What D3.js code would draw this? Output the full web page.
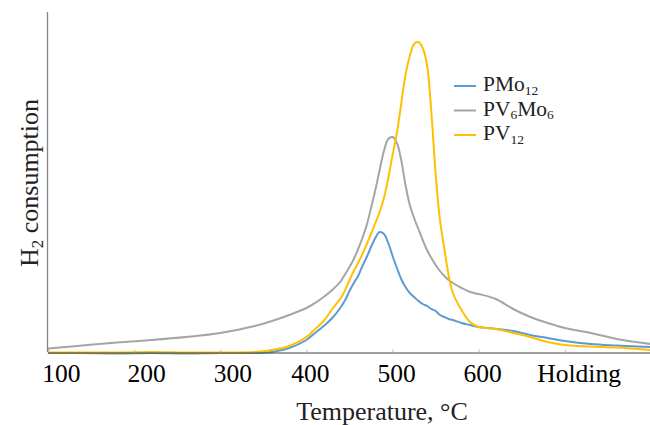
<!DOCTYPE html>
<html>
<head>
<meta charset="utf-8">
<script src="https://cdn.jsdelivr.net/npm/d3@7"></script>
<style>
  html, body { margin: 0; padding: 0; background: #fff; }
  svg { display: block; font-family: "Liberation Serif", "Times New Roman", serif; }
</style>
</head>
<body>
<svg id="chart" width="650" height="425"></svg>
<script>
// Position along the temperature programme (ramp then isothermal hold)
const positions = [0, 40, 80, 120, 160, 200, 240, 260, 280, 300, 310, 320, 330, 340, 345, 350, 355, 360,
  365, 370, 375, 380, 385, 390, 395, 400, 405, 410, 415, 420, 425, 430, 435, 440, 445, 450, 455, 460,
  465, 470, 480, 490, 500, 520, 540, 560, 580, 600, 630, 660, 700];

// TCD signal, arbitrary units
const pmo12 = [-1, -1, -1.5, -1, -1.5, -1, -1, 0, 4, 12, 19, 26, 34, 45, 52, 61, 69, 76,
  86, 95, 105, 114, 120, 118, 109, 96, 84, 73, 65, 59, 55, 51, 48, 46, 43, 41, 37, 35,
  33, 32, 29, 27, 25, 23, 21, 17, 14, 11, 8, 6.5, 5];
const pv6mo6 = [3.5, 6.5, 9.5, 12, 15, 19, 26, 31, 37, 44, 49, 55, 62, 71, 78, 85, 93, 103,
  114, 127, 144, 162, 182, 201, 213, 215, 209, 192, 167, 147, 134, 123, 112, 102, 94, 87, 81, 76,
  72, 69, 64, 60, 58, 53, 43, 35, 29, 24, 19, 13, 8];
const pv12 = [-0.5, -0.5, -0.5, 0, -0.5, -0.5, 0, 2, 6, 15, 23, 31, 43, 54, 62, 72, 81, 89,
  98, 108, 118, 129, 140, 154, 174, 197, 219, 248, 277, 296, 308, 310, 304, 287, 240, 178, 132, 104,
  77, 59, 42, 30, 25, 23, 19, 15, 10, 7, 5.5, 4.5, 2];

const tickMarks = [0, 100, 200, 300, 400, 500, 600, 700];
const tickLabels = ["100", "200", "300", "400", "500", "600", "Holding"];
const tickLabelPos = [15, 114, 214, 304, 404, 504, 616];

const series = [
  { name: "PMo", sub: "12", values: pmo12, color: "#5B9BD5" },
  { name: "PV", sub: "6", name2: "Mo", sub2: "6", values: pv6mo6, color: "#A5A5A5" },
  { name: "PV", sub: "12", values: pv12, color: "#FFC000" }
];

const svg = d3.select("#chart");
const margin = { left: 48, right: 0, top: 12, bottom: 73 };
const W = 650, H = 425;

const x = d3.scaleLinear().domain([0, 700]).range([margin.left, W - margin.right + 1]);
const y = d3.scaleLinear().domain([0, 340]).range([H - margin.bottom, margin.top]);

// vertical axis line (no ticks)
svg.append("line")
  .attr("x1", margin.left - 0.5).attr("x2", margin.left - 0.5)
  .attr("y1", y(340)).attr("y2", y(0))
  .attr("stroke", "#868686").attr("stroke-width", 1.3);

// curves
const line = d3.line()
  .x((d, i) => x(positions[i]))
  .y(d => y(d))
  .curve(d3.curveCatmullRom.alpha(0.5));

const order = [1, 0, 2];
order.forEach(k => {
  const s = series[k];
  svg.append("path")
    .datum(s.values)
    .attr("d", line)
    .attr("fill", "none")
    .attr("stroke", s.color)
    .attr("stroke-width", 2)
    .attr("stroke-linejoin", "round");
});

// horizontal axis: line with small inward tick marks
const axisG = svg.append("g").attr("transform", `translate(0,${y(0) + 0.5})`);
axisG.call(d3.axisBottom(x).tickValues(tickMarks).tickSize(-3).tickFormat(""))
  .call(g => g.select(".domain").attr("stroke", "#404040").attr("stroke-width", 1.2))
  .call(g => g.selectAll(".tick line").attr("stroke", "#BFBFBF"));

// category labels
const labelAxis = svg.append("g").attr("transform", `translate(0,${y(0)})`);
labelAxis.call(d3.axisBottom(x).tickValues(tickLabelPos).tickSize(0)
    .tickFormat((d, i) => tickLabels[i]))
  .call(g => g.select(".domain").remove())
  .call(g => g.selectAll(".tick text")
    .attr("font-family", "Liberation Serif, Times New Roman, serif")
    .attr("font-size", 25.5)
    .attr("fill", "#000")
    .attr("dy", 0)
    .attr("y", 30));

// axis titles
svg.append("text")
  .attr("x", 382).attr("y", 419.5)
  .attr("text-anchor", "middle")
  .attr("font-size", 26)
  .attr("fill", "#222")
  .text("Temperature, °C");

const yt = svg.append("text")
  .attr("transform", "translate(37.5,183) rotate(-90)")
  .attr("text-anchor", "middle")
  .attr("font-size", 26)
  .attr("fill", "#222");
yt.append("tspan").text("H");
yt.append("tspan").attr("font-size", 17).attr("dy", 5).text("2");
yt.append("tspan").attr("dy", -5).text(" consumption");

// legend
const legend = svg.append("g").attr("transform", "translate(454,86)");
series.forEach((s, i) => {
  const g = legend.append("g").attr("transform", `translate(0,${i * 24.5})`);
  g.append("line").attr("x1", 0).attr("x2", 22).attr("y1", 0).attr("y2", 0)
    .attr("stroke", s.color).attr("stroke-width", 2);
  const t = g.append("text").attr("x", 29).attr("y", 5).attr("font-size", 21.5).attr("fill", "#222");
  t.append("tspan").text(s.name);
  t.append("tspan").attr("font-size", 13.5).attr("dy", 3.5).text(s.sub);
  if (s.name2) {
    t.append("tspan").attr("dy", -3.5).text(s.name2);
    t.append("tspan").attr("font-size", 13.5).attr("dy", 3.5).text(s.sub2);
  }
});
</script>
</body>
</html>
